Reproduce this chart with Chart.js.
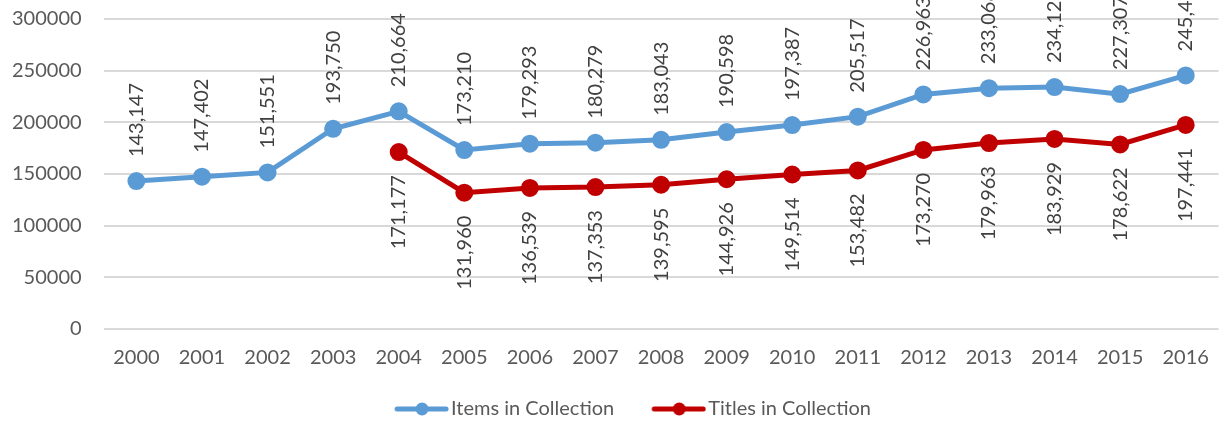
<!DOCTYPE html>
<html>
<head>
<meta charset="utf-8">
<script src="https://cdn.jsdelivr.net/npm/chart.js@4/dist/chart.umd.min.js"></script>
<style>
  html, body { margin: 0; padding: 0; background: #fff; }
  #wrap { width: 1230px; height: 423px; }
</style>
</head>
<body>
<div id="wrap"><canvas id="grafico"></canvas></div>
<script>
const anios = ['2000', '2001', '2002', '2003', '2004', '2005', '2006', '2007', '2008',
  '2009', '2010', '2011', '2012', '2013', '2014', '2015', '2016'];
const items = [143147, 147402, 151551, 193750, 210664, 173210, 179293, 180279, 183043,
  190598, 197387, 205517, 226963, 233068, 234125, 227307, 245433];
const titulos = [null, null, null, null, 171177, 131960, 136539, 137353, 139595,
  144926, 149514, 153482, 173270, 179963, 183929, 178622, 197441];
const ticksY = [0, 50000, 100000, 150000, 200000, 250000, 300000];

const azul = '#5B9BD5';
const rojo = '#C00000';
const fuente = 'Lato, "Open Sans", sans-serif';

// muestra de leyenda: linea con punto, pegada al texto
function muestra(color) {
  const c = document.createElement('canvas');
  c.width = 90; c.height = 16;
  const g = c.getContext('2d');
  g.strokeStyle = color;
  g.lineWidth = 5;
  g.lineCap = 'round';
  g.beginPath(); g.moveTo(38, 8); g.lineTo(87, 8); g.stroke();
  g.fillStyle = color;
  g.beginPath(); g.arc(63, 8, 6.5, 0, Math.PI * 2); g.fill();
  return c;
}

// etiquetas verticales: arriba para la serie azul, abajo para la roja
const etiquetas = {
  id: 'etiquetas',
  afterDatasetsDraw(chart) {
    const ctx = chart.ctx;
    chart.data.datasets.forEach((ds, i) => {
      const meta = chart.getDatasetMeta(i);
      meta.data.forEach((p, j) => {
        const v = ds.data[j];
        if (v === null) return;
        ctx.save();
        ctx.font = '20px ' + fuente;
        ctx.fillStyle = '#404040';
        ctx.textBaseline = 'middle';
        if (i === 0) {
          ctx.translate(p.x, p.y - 24);
          ctx.rotate(-Math.PI / 2);
          ctx.textAlign = 'left';
        } else {
          ctx.translate(p.x, p.y + 23);
          ctx.rotate(-Math.PI / 2);
          ctx.textAlign = 'right';
        }
        ctx.fillText(v.toLocaleString('en-US'), 0, 0);
        ctx.restore();
      });
    });
  }
};

const ctx = document.getElementById('grafico').getContext('2d');
new Chart(ctx, {
  type: 'line',
  data: {
    labels: anios,
    datasets: [{
      label: 'Items in Collection',
      data: items,
      borderColor: azul,
      backgroundColor: azul,
      borderWidth: 5,
      pointRadius: 6.5,
      pointHoverRadius: 6.5,
      tension: 0
    }, {
      label: 'Titles in Collection',
      data: titulos,
      borderColor: rojo,
      backgroundColor: rojo,
      borderWidth: 5,
      pointRadius: 6.5,
      pointHoverRadius: 6.5,
      tension: 0
    }]
  },
  options: {
    responsive: true,
    maintainAspectRatio: false,
    animation: false,
    layout: { padding: { top: 19, left: 10, right: 2, bottom: -6 } },
    scales: {
      x: {
        offset: true,
        grid: { display: false, drawTicks: false },
        border: { display: false },
        ticks: { color: '#595959', font: { family: fuente, size: 20 }, padding: 17, maxRotation: 0 },
        afterFit(axis) { axis.height = 60; }
      },
      y: {
        min: 0,
        max: 300000,
        afterBuildTicks(axis) { axis.ticks = ticksY.map(v => ({ value: v })); },
        grid: { color: '#d9d9d9', lineWidth: 2, drawTicks: true, tickLength: 20, tickColor: 'rgba(0,0,0,0)' },
        border: { display: false },
        ticks: {
          color: '#595959',
          font: { family: fuente, size: 20 },
          padding: 2,
          callback: v => String(v)
        }
      }
    },
    plugins: {
      tooltip: { enabled: false },
      legend: {
        position: 'bottom',
        labels: {
          usePointStyle: true,
          pointStyleWidth: 74,
          padding: 10,
          color: '#595959',
          font: { family: fuente, size: 20 },
          generateLabels(chart) {
            const base = Chart.defaults.plugins.legend.labels.generateLabels(chart);
            base.forEach((l, i) => {
              l.pointStyle = muestra(i === 0 ? azul : rojo);
            });
            return base;
          }
        }
      }
    }
  },
  plugins: [etiquetas]
});
</script>
</body>
</html>
